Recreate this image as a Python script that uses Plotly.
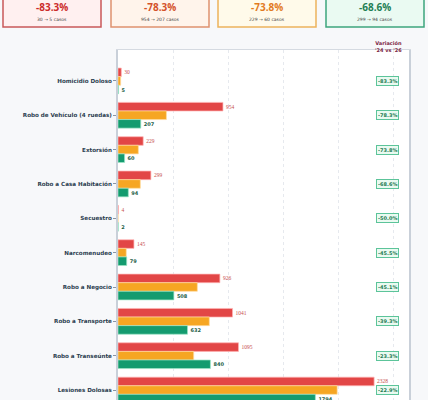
import plotly.graph_objects as go

# --- data ---
delitos = [
    "Homicidio Doloso", "Robo de Vehículo (4 ruedas)", "Extorsión",
    "Robo a Casa Habitación", "Secuestro", "Narcomenudeo", "Robo a Negocio",
    "Robo a Transporte", "Robo a Transeúnte", "Lesiones Dolosas",
]
casos_2024 = [30, 954, 229, 299, 4, 145, 926, 1041, 1095, 2328]
casos_2025 = [24, 440, 185, 203, 1, 75, 721, 830, 688, 1992]
casos_2026 = [5, 207, 60, 94, 2, 79, 508, 632, 840, 1794]

variacion = [(b - a) / a * 100 for a, b in zip(casos_2024, casos_2026)]

# pixel -> paper helpers (page body margin is removed below)
W, H = 428, 400
ML, MR, MT, MB = 118, 19, 50, 0
def px_x(p):
    return (p - ML) / (W - ML - MR)
def px_y(p):
    return 1 - (p - MT) / (H - MT - MB)

fig = go.Figure()
fig.add_trace(go.Bar(
    y=delitos, x=casos_2024, orientation="h", name="2024",
    marker=dict(color="#e24646", line=dict(color="rgba(255,180,180,0.7)", width=1)),
    text=casos_2024, textposition="outside", cliponaxis=False,
    textfont=dict(family="Liberation Serif", size=5.5, color="#c8504f"),
))
fig.add_trace(go.Bar(
    y=delitos, x=casos_2025, orientation="h", name="2025",
    marker=dict(color="#f6a623", line=dict(color="rgba(255,220,160,0.7)", width=1)),
))
fig.add_trace(go.Bar(
    y=delitos, x=casos_2026, orientation="h", name="2026",
    marker=dict(color="#149b6f", line=dict(color="rgba(160,230,200,0.7)", width=1)),
    text=casos_2026, textposition="outside", cliponaxis=False,
    textfont=dict(family="DejaVu Sans", size=5, color="#1d5e47", weight="bold"),
))

# variation badges
for d, v in zip(delitos, variacion):
    fig.add_annotation(
        x=px_x(387), xref="paper", y=d, yref="y", text=f"{v:.1f}%", showarrow=False,
        xanchor="center", yanchor="middle",
        font=dict(family="DejaVu Sans", size=5, color="#1e7a53", weight="bold"),
        bgcolor="#eafaf1", bordercolor="#5cc49a", borderwidth=1, borderpad=1,
    )

fig.add_annotation(
    x=px_x(388), xref="paper", y=px_y(47), yref="paper",
    xanchor="center", yanchor="middle",
    text="Variación<br>'24 vs '26", showarrow=False,
    font=dict(family="DejaVu Sans", size=5, color="#7b2442", weight="bold"),
)

# KPI cards for top 4 reductions
orden = sorted(range(len(delitos)), key=lambda i: variacion[i])[:4]
card_style = [
    ("#fff0f0", "#c9585a", "#cc2b2b"),
    ("#fff4eb", "#e0916f", "#d4522a"),
    ("#fffaea", "#edb35c", "#e27b1e"),
    ("#eafaf2", "#3ea57e", "#1e8055"),
]
card_x = [3, 111, 218, 326]
for (fill, border, txt), x0, i in zip(card_style, card_x, orden):
    fig.add_shape(type="rect", xref="paper", yref="paper",
                  x0=px_x(x0), x1=px_x(x0 + 98), y0=px_y(27), y1=px_y(-30),
                  fillcolor=fill, line=dict(color=border, width=1.5))
    fig.add_annotation(x=px_x(x0 + 49), xref="paper", y=px_y(7.5), yref="paper",
                       xanchor="center", yanchor="middle",
                       text=f"{variacion[i]:.1f}%", showarrow=False,
                       font=dict(family="Open Sans", size=10, color=txt, weight="bold"))
    fig.add_annotation(x=px_x(x0 + 49), xref="paper", y=px_y(19.5), yref="paper",
                       xanchor="center", yanchor="middle",
                       text=f"{casos_2024[i]} → {casos_2026[i]} casos", showarrow=False,
                       font=dict(family="DejaVu Sans", size=4.5, color="#444"))

fig.update_layout(
    width=W, height=H,
    margin=dict(l=ML, r=MR, t=MT, b=MB),
    barmode="group", bargap=0.25, bargroupgap=0,
    paper_bgcolor="#f7f8fa", plot_bgcolor="white",
    showlegend=False,
)
fig.update_xaxes(range=[0, 2645], dtick=500, showticklabels=False,
                 gridcolor="#e6e9ee", griddash="dot", zeroline=False,
                 showline=True, linecolor="#d5dae1", mirror=True)
fig.update_yaxes(range=[9.29, -0.9], ticks="outside", ticklen=3, tickcolor="#8a94a3",
                 tickfont=dict(family="DejaVu Sans", size=5.6, color="#2c3e50", weight="bold"),
                 showline=True, linecolor="#c9d0d9", linewidth=2, mirror=True, showgrid=False)

fig.write_html("out.html", config={"displayModeBar": False},
               post_script="document.body.style.margin='0';")
